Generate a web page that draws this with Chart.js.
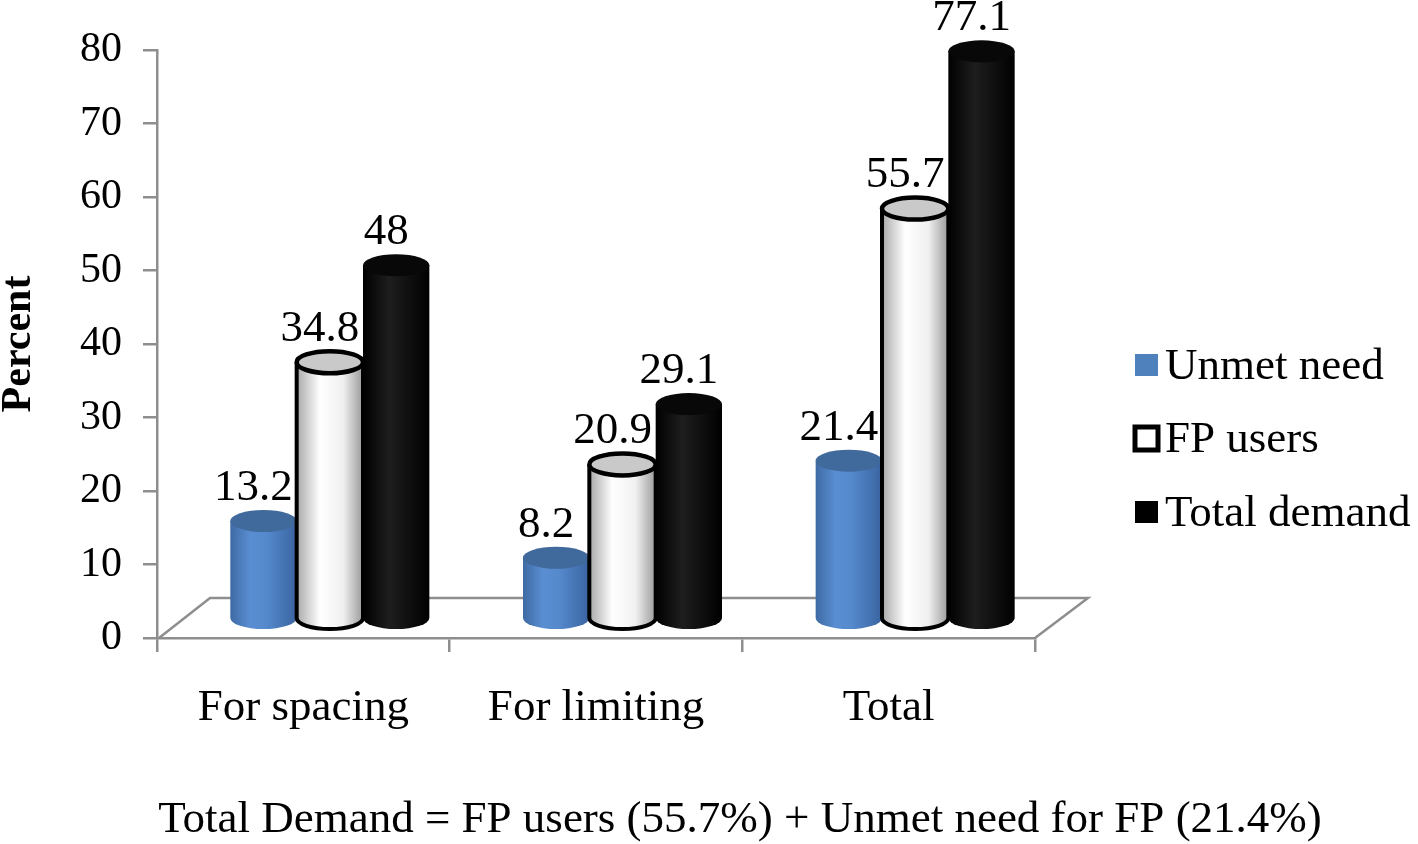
<!DOCTYPE html>
<html>
<head>
<meta charset="utf-8">
<script src="https://cdn.jsdelivr.net/npm/chart.js@4"></script>
<style>
  html, body { margin: 0; padding: 0; background: #fff; }
  #wrap { width: 1418px; height: 844px; position: relative; }
</style>
</head>
<body>
<div id="wrap"><canvas id="chart"></canvas></div>
<script>
const categories = ["For spacing", "For limiting", "Total"]
const seriesNames = ["Unmet need", "FP users", "Total demand"]
const unmetNeed = [13.2, 8.2, 21.4]
const fpUsers = [34.8, 20.9, 55.7]
const totalDemand = [48, 29.1, 77.1]
const yTicks = [0, 10, 20, 30, 40, 50, 60, 70, 80]
const noteText = "Total Demand = FP users (" + fpUsers[2] + "%) + Unmet need for FP (" + unmetNeed[2] + "%)"

const SERIF = "'Liberation Serif', 'Times New Roman', serif"
const GRAY = "#8e8e8e"
// 3D floor depth offset, bars sit half way into it
const DEPTH_X = 53, DEPTH_Y = -40

function bodyGradient(ctx, x0, x1, kind) {
  const g = ctx.createLinearGradient(x0, 0, x1, 0)
  if (kind === 0) {
    g.addColorStop(0, "#3d6aa3"); g.addColorStop(0.3, "#5a8ed2")
    g.addColorStop(0.55, "#5489cc"); g.addColorStop(1, "#3a64a0")
  } else if (kind === 1) {
    g.addColorStop(0, "#a8a8a8"); g.addColorStop(0.35, "#ffffff")
    g.addColorStop(0.7, "#f0f0f0"); g.addColorStop(1, "#9a9a9a")
  } else {
    g.addColorStop(0, "#000"); g.addColorStop(0.4, "#1e1e1e")
    g.addColorStop(1, "#000")
  }
  return g
}

const cylinders = {
  id: "cylinders",
  beforeDatasetsDraw(chart) {
    const { ctx, chartArea: a } = chart
    // floor of the 3D plot
    ctx.save()
    ctx.strokeStyle = GRAY
    ctx.lineWidth = 2.5
    ctx.beginPath()
    ctx.moveTo(a.left + 2, a.bottom)
    ctx.lineTo(a.left + DEPTH_X, a.bottom + DEPTH_Y)
    ctx.lineTo(a.right + DEPTH_X, a.bottom + DEPTH_Y)
    ctx.lineTo(a.right, a.bottom)
    ctx.stroke()
    ctx.restore()
  },
  afterDatasetsDraw(chart) {
    const { ctx } = chart
    const y = chart.scales.y
    const dx = DEPTH_X / 2, dy = DEPTH_Y / 2
    const ry = 11
    ctx.save()
    for (let j = 0; j < categories.length; j++) {
      for (let i = 0; i < chart.data.datasets.length; i++) {
        const el = chart.getDatasetMeta(i).data[j]
        const v = chart.data.datasets[i].data[j]
        const cx = el.x + dx, hw = el.width / 2
        const topY = y.getPixelForValue(v) + dy
        const baseY = y.getPixelForValue(0) + dy
        // body
        ctx.beginPath()
        ctx.moveTo(cx - hw, topY)
        ctx.lineTo(cx - hw, baseY)
        ctx.ellipse(cx, baseY, hw, ry, 0, Math.PI, 0, true)
        ctx.lineTo(cx + hw, topY)
        ctx.closePath()
        ctx.fillStyle = bodyGradient(ctx, cx - hw, cx + hw, i)
        ctx.fill()
        if (i === 1) {
          ctx.beginPath()
          ctx.moveTo(cx - hw, topY)
          ctx.lineTo(cx - hw, baseY)
          ctx.ellipse(cx, baseY, hw, ry, 0, Math.PI, 0, true)
          ctx.lineTo(cx + hw, topY)
          ctx.strokeStyle = "#000"
          ctx.lineWidth = 4
          ctx.stroke()
        }
        // top cap
        ctx.beginPath()
        ctx.ellipse(cx, topY, hw, ry, 0, 0, Math.PI * 2)
        ctx.fillStyle = i === 0 ? "#40699c" : i === 1 ? "#c9c9c9" : "#080808"
        ctx.fill()
        if (i === 1) {
          ctx.strokeStyle = "#000"
          ctx.lineWidth = 4.5
          ctx.stroke()
        }
        // value label
        ctx.fillStyle = "#000"
        ctx.font = "45px " + SERIF
        ctx.textAlign = "center"
        ctx.textBaseline = "middle"
        ctx.fillText(String(v), cx - 10, topY - 33)
      }
    }
    ctx.restore()
  },
  afterDraw(chart) {
    const { ctx } = chart
    ctx.save()
    // legend
    const ys = [365, 438, 512]
    chart.data.datasets.forEach((ds, i) => {
      const yy = ys[i]
      if (i === 1) {
        ctx.fillStyle = "#fff"
        ctx.strokeStyle = "#000"
        ctx.lineWidth = 5
        ctx.fillRect(1135, yy - 11, 23, 23)
        ctx.strokeRect(1135, yy - 11, 23, 23)
      } else {
        ctx.fillStyle = i === 0 ? "#4f81bd" : "#000"
        ctx.fillRect(1135, yy - 11, 23, 22)
      }
      ctx.fillStyle = "#000"
      ctx.font = "45px " + SERIF
      ctx.textAlign = "left"
      ctx.textBaseline = "middle"
      ctx.fillText(ds.label, 1165, yy + 2)
    })
    // note under the chart
    ctx.font = "45px " + SERIF
    ctx.textAlign = "center"
    ctx.fillText(noteText, 740, 820)
    ctx.restore()
  }
}

const canvas = document.getElementById("chart")
new Chart(canvas, {
  type: "bar",
  data: {
    labels: categories,
    datasets: [
      { label: seriesNames[0], data: unmetNeed },
      { label: seriesNames[1], data: fpUsers },
      { label: seriesNames[2], data: totalDemand }
    ].map(d => Object.assign(d, { backgroundColor: "rgba(0,0,0,0)", borderWidth: 0 }))
  },
  options: {
    responsive: true,
    maintainAspectRatio: false,
    animation: false,
    events: [],
    categoryPercentage: 0.68,
    barPercentage: 1.0,
    layout: { padding: { top: 50, left: 0, right: 383, bottom: 0 } },
    plugins: { legend: { display: false }, tooltip: { enabled: false } },
    scales: {
      x: {
        afterFit: s => { s.height = 206 },
        grid: { drawOnChartArea: false, offset: true, tickLength: 14, color: GRAY, lineWidth: 2.5 },
        border: { color: GRAY, width: 2.5 },
        ticks: { color: "#000", padding: 29, font: { family: SERIF, size: 45 } }
      },
      y: {
        min: 0,
        max: 80,
        afterFit: s => { s.width = 157 },
        afterBuildTicks: s => { s.ticks = yTicks.map(v => ({ value: v })) },
        grid: { drawOnChartArea: false, tickLength: 14, color: GRAY, lineWidth: 2.5 },
        border: { color: GRAY, width: 2.5 },
        ticks: { color: "#000", padding: 21, font: { family: SERIF, size: 42 } },
        title: {
          display: true,
          text: "Percent",
          color: "#000",
          padding: 0,
          font: { family: SERIF, size: 42, weight: "bold", lineHeight: 0.9 }
        }
      }
    }
  },
  plugins: [cylinders]
})
</script>
</body>
</html>
